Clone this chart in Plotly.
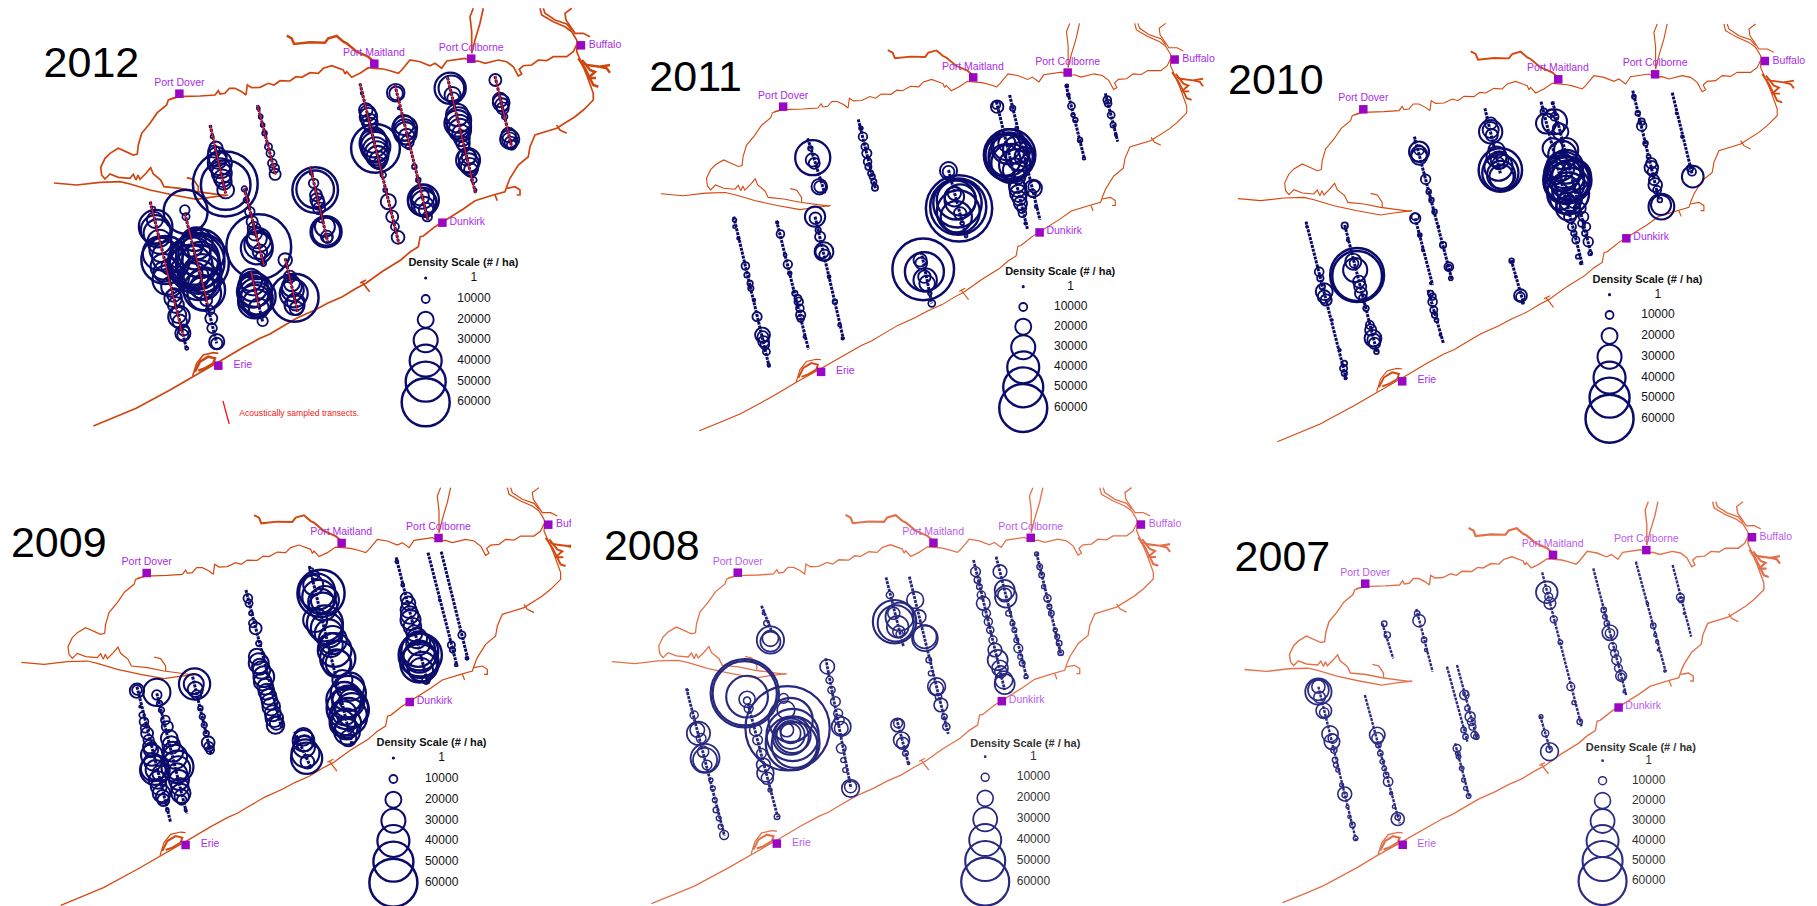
import plotly.graph_objects as go

W, H = 1817, 906
YEARS = ["2012", "2011", "2010", "2009", "2008", "2007"]
# page box of each map: left, top, width, height, map units per pixel (x); y is 3 units per pixel
BOX = [(0, 0, 640, 440, 2.57), (610, 0, 610, 440, 2.57), (1210, 0, 607, 450, 2.583),
       (0, 460, 571, 446, 2.57), (600, 460, 610, 446, 2.57), (1210, 460, 607, 446, 2.583)]
DOVER = [(461, 281), (445, 320), (396, 328), (377, 339), (354, 338), (401, 371)]
SCALE = [(1, 1), (.975, .975), (1.005, 1), (1, 1), (1.004, .996), (.968, .96)]
YEAR_POS = [(235, 200), (220, 241), (170, 250), (151, 258), (133, 267), (187, 302)]
LEG_X = [1094, 1062, 1032, 1011, 990, 1014]
LEG_LABEL_X = [1218, 1184, 1157, 1135, 1114, 1133]
LEG_TITLE = [(1191, 789), (1157, 816), (1130, 840), (1109, 849), (1093, 852), (1113, 865)]
LEG_Y = [[834, 897, 959, 1021, 1082, 1145, 1207], [860, 921, 980, 1042, 1102, 1162, 1224],
         [884, 945, 1008, 1070, 1133, 1193, 1256], [894, 957, 1019, 1082, 1143, 1205, 1268],
         [890, 952, 1015, 1078, 1140, 1203, 1265], [902, 962, 1022, 1083, 1143, 1203, 1263]]
LEG_DENSITY = [1, 10000, 20000, 30000, 40000, 50000, 60000]

TOWNS = ["Port Dover", "Port Maitland", "Port Colborne", "Buffalo", "Dunkirk", "Erie"]
TOWN_X = [461, 962, 1211, 1493, 1137, 561]
TOWN_Y = [281, 191, 176, 136, 668, 1097]
TOWN_LX = [461, 961, 1211, 1513, 1155, 600]
TOWN_LY = [249, 159, 144, 136, 666, 1095]

# Shoreline in pixels of the 2012 map
SHORE_MAIN = [(170,99),(178.3,96.7),(200,96),(215,95),(218.3,90.7),(220,94),(225,93.3),(229.3,88.3),(235,88.3),(241.7,91.7),(246,95),(247.3,85),(251.7,87.7),(260,87.3),(268.3,83.3),(274,85),(280,80.7),(290,81),(296,76.7),(301.7,77.3),(310,72.7),(318.3,73.3),(323.3,68.3),(331.7,65.7),(343.3,70),(345,74),(346.7,71.7),(351.7,77.3),(360,73.3),(368.3,67.7),(375,68.3),(383.3,69),(390,70.7),(398.3,73.3),(401.7,70),(410,60),(420,61.7),(430,65.7),(435,63.3),(441.7,68.3),(446.7,61),(455,60),(465,58.3),(471.7,61.7),(478.3,61),(485,63.3),(498.3,60),(506.7,61.7),(513.3,66.7),(518.3,76),(521.7,74),(519.3,69.3),(523.3,65.7),(531.7,65),(538.3,60),(546.7,60.7),(553.3,56.7),(566.7,56.7),(573.3,51.7),(577.3,43.3),(576.7,51.7),(581.7,63.3),(586.7,75),(593.3,93.3),(593.3,100),(583.3,110),(575,116.7),(556.7,128.3),(535,135),(530,146.7),(528.3,156.7),(518.3,165),(510,178.3),(507.3,185),(505,191.7),(493.3,195),(475,200.7),(463.3,209),(448.3,218.3),(435,226.7),(423.3,236),(420.2,236.7),(418.3,246.7),(410,252),(400.8,260),(383,271),(365.8,283.3),(355,289),(342.4,296.7),(328,303),(315,310),(297,318),(280,328),(270,334),(260,338.3),(241.7,348.3),(225,358.3),(213.3,365),(193.3,376),(170,390),(136.2,408.3),(118,416),(93.4,426)]
SHORE_WEST = [(178.3,96.7),(168.3,100),(166.7,105),(157.3,112.7),(150,123.3),(141.7,133.3),(138.3,145),(137.3,154),(133.3,155),(125,151.7),(118.3,148.3),(110,153.3),(105,158.3),(100.7,167.3),(101.7,175),(105,179),(110,174),(118.3,177.3),(130,178.3),(133.3,174.3),(136,180),(138,175),(140,179.3),(146,173.3),(150.7,167.7),(153.3,174),(160.7,180),(164,186.7),(180,188.3),(196.7,191.7),(210,193.3),(226.7,195.7)]
SHORE_SPIT = [(54,183),(76.7,185),(100,182.3),(120,181.7),(130,184),(150,190),(173.3,195),(196.7,199.3),(210,197.3),(228.3,195)]
SHORE_HOOK = [(186.7,177.7),(193.3,179.3),(198.3,186.7),(198.3,191.7)]
RIVER_A = [(540,8.3),(541.7,15),(553.3,21.7),(565,26.7),(571.7,31.7),(576.7,40),(577.3,43.3)]
RIVER_A2 = [(543.3,8.3),(545,13.3),(555,20),(566.7,24),(571.7,30)]
RIVER_B = [(571.7,8.3),(565,13.3),(566,20),(571.7,28.3),(575,33.3),(583.3,33.3),(590,36.7)]
CANAL_L = [(473.3,8.3),(470,16.7),(471.7,31.7),(471.7,53.3)]
CANAL_R = [(483.3,8.3),(480,23.3),(475,40),(471.7,53.3)]
TICK_1 = [(556.7,125),(560,130),(566.7,133.3)]
TICK_2 = [(506.7,188.3),(515,186.7),(520,190),(520,195),(516.7,195)]
TICK_3 = [(495,195),(497.3,200.7)]
TICK_4 = [(361.9,281.7),(369.6,291.7)]
TICK_5 = [(360,283),(366,280)]
WELLAND = [(286.7,35.7),(291.7,38.3),(294,44),(310,42.3),(325,42.7),(328.3,38.3),(336.7,36),(343.3,41.7),(346.7,43.3),(356.7,51.7),(368.3,56.7),(374,61.7)]
ERIE_BAY = [(192.7,376),(196.7,363.3),(203.3,355),(213.3,352.7),(218.3,353.3)]
ERIE_INNER = [(195,371.7),(200,361.7),(208.3,356.7),(215,358.3),(213.3,363.3),(205,368.3),(198.3,370.7)]
HARBOUR_A = [(578.3,58.3),(585,68.3),(590,78.3),(593.3,85),(598.3,86.7)]
HARBOUR_B = [(583,63),(586.7,65),(600,66.7),(610,65)]
HARBOUR_C = [(600,66.7),(606.7,68.3),(610,72.7)]
HARBOUR_D = [(582,60),(590,70),(595,72),(588,78),(596,78)]
COAST = [SHORE_MAIN, SHORE_WEST, SHORE_SPIT, SHORE_HOOK, RIVER_A, RIVER_A2, RIVER_B, CANAL_L, CANAL_R, TICK_1, TICK_2, TICK_3, TICK_4, TICK_5, ERIE_BAY]
COAST_HEAVY = [WELLAND, ERIE_INNER, HARBOUR_A, HARBOUR_B, HARBOUR_C, HARBOUR_D]
COAST_WIDTH = [1.7, 1.1, 1.1, 1.2, 1.3, 1.4]
COAST_COLOR = ["#cf4510", "#d4480f", "#d4480f", "#d4480f", "#e2714a", "#e2714a"]
BUBBLE_COLOR = ["#0b0b6b", "#0b0b6b", "#0b0b6b", "#0b0b6b", "#28287f", "#2c2c85"]
TEXT_COLOR = ["#a92be8", "#a92be8", "#a92be8", "#a92be8", "#b95cec", "#b95cec"]
INK = ["#111111", "#111111", "#111111", "#111111", "#333333", "#333333"]
BEAD_WIDTH = [3, 3, 3, 3, 2.8, 2.4]

RED_2012 = [[(386,605),(470,1010)], [(475,640),(535,915)], [(540,375),(580,580)], [(662,315),(708,525)],
            [(628,565),(678,795)], [(645,815),(665,920)], [(733,775),(765,935)], [(797,500),(842,725)],
            [(925,250),(1025,730)], [(1015,255),(1100,660)], [(1150,232),(1222,580)], [(1272,228),(1315,440)]]
RED_KEY = [(573,1203),(589,1272)]
RED_NOTE = "Acoustically sampled transects."

TRANSECTS = [
 [[(386,605),(480,1050)],[(475,640),(557,1030)],[(540,375),(580,580)],[(662,315),(708,525)],[(628,565),(678,795)],[(645,815),(675,965)],[(733,775),(765,935)],[(797,500),(842,725)],[(925,250),(1025,730)],[(1015,255),(1100,660)],[(1150,232),(1222,580)],[(1272,228),(1315,440)]],
 [[(1172,255),(1220,480)],[(1273,280),(1305,425)],[(993,305),(1073,688)],[(1027,285),(1105,660)],[(638,358),(682,565)],[(508,415),(552,580)],[(318,650),(410,1105)],[(428,662),(510,1048)],[(527,650),(600,1018)],[(800,755),(827,910)],[(870,510),(915,710)]],
 [[(1092,272),(1160,600)],[(1194,278),(1245,520)],[(855,305),(962,795)],[(885,305),(985,765)],[(710,325),(750,520)],[(528,410),(625,840)],[(248,665),(352,1138)],[(348,675),(432,1060)],[(530,655),(575,855)],[(563,870),(603,1030)],[(778,780),(810,910)]],
 [[(1100,278),(1175,620)],[(1134,275),(1203,600)],[(1018,292),(1100,672)],[(632,390),(725,810)],[(795,318),(905,855)],[(757,815),(800,925)],[(352,680),(438,1085)],[(403,700),(480,1062)],[(495,650),(542,880)]],
 [[(1122,280),(1185,585)],[(1018,290),(1097,655)],[(960,300),(1040,690)],[(795,350),(895,822)],[(735,352),(780,560)],[(415,437),(440,510)],[(580,595),(645,985)],[(380,730),(457,1072)],[(222,685),(320,1128)],[(762,775),(793,912)]],
 [[(1195,315),(1243,530)],[(1100,305),(1177,635)],[(990,325),(1075,705)],[(858,337),(960,800)],[(533,447),(575,635)],[(445,490),(473,595)],[(612,620),(665,845)],[(638,615),(690,838)],[(633,850),(670,1012)],[(853,768),(880,875)],[(400,705),(490,1090)],[(280,680),(377,1140)]],
]

# x, y, density in thousands per hectare
B2012 = [(400,680,42),(400,690,37),(405,700,35),(410,725,30),(425,780,60),(430,840,37),(420,815,25),(435,800,20),(445,895,22),(447,885,17),(460,950,27),(458,945,20),(470,1000,19),(470,1005,14),(480,1045,4),(398,660,20),(395,625,4),
 (475,630,12),(477,635,55),(478,650,9),(510,790,76),(505,785,70),(500,780,62),(510,800,55),(500,760,40),(495,740,25),(515,780,45),(490,825,30),(500,830,35),(525,870,52),(525,880,42),(520,860,30),(530,900,15),(540,930,11),(543,955,15),(545,985,12),(557,1025,19),(557,1030,14),
 (541,380,2.5),(545,410,4),(555,445,17),(565,490,30),(570,520,25),(575,545,20),(580,570,21),(560,480,22),(579,552,81),(580,555,62),
 (664,325,4),(670,350,5),(675,375,5),(680,400,6),(690,440,9),(695,460,10),(700,490,11),(705,505,12),(707,523,14),
 (628,567,7),(633,600,7),(642,635,12),(648,665,14),(653,685,16),(660,715,25),(660,745,40),(665,720,30),(664,735,35),(670,770,12),(677,790,7),(665,740,81),
 (650,860,37),(655,870,42),(660,890,47),(655,905,42),(650,850,30),(660,895,40),(675,963,13),
 (733,780,17),(745,830,15),(750,860,25),(755,880,35),(757,893,60),(762,925,17),(760,905,22),
 (800,520,4),(806,550,12),(810,570,57),(810,568,47),(815,600,17),(820,625,15),(838,695,39),(838,695,35),(840,710,15),(825,660,6),
 (930,280,3),(940,330,17),(947,350,22),(950,365,20),(965,445,61),(965,440,37),(965,450,32),(970,470,27),(975,490,15),(985,525,7),(990,570,5),(998,605,19),(1008,650,15),(1015,680,10),(1023,712,16),
 (1017,278,22),(1018,280,17),(1025,325,3),(1040,385,31),(1040,390,27),(1045,410,20),(1050,440,7),(1065,500,6),(1075,540,6),(1088,600,39),(1085,605,35),(1090,620,25),(1098,650,12),(1080,590,22),
 (1157,265,39),(1160,265,32),(1163,285,20),(1165,295,15),(1178,360,32),(1180,380,30),(1185,400,22),(1190,430,17),(1203,480,30),(1205,490,25),(1210,510,17),(1218,540,7),(1222,570,3),
 (1273,240,15),(1288,308,21),(1290,315,17),(1297,350,7),(1310,418,24),(1310,420,19),(1315,435,12),
 (415,750,30),(420,800,32),(430,770,38),(410,760,42),(440,860,25),(452,915,20),(462,965,18),(472,990,14),
 (505,730,40),(515,760,60),(490,800,55),(520,820,48),(510,840,50),(500,720,28),(525,850,40),
 (558,470,24),(567,505,25),(572,535,22),(550,455,15),(655,700,18),(668,755,18),
 (645,840,28),(650,875,40),(660,910,35),(665,925,25),(750,850,20),(752,870,28),(757,915,25),
 (812,585,15),(818,610,16),(835,680,25),(842,715,12),(945,340,20),(952,375,18),(960,420,32),(960,430,35),(968,460,30),(972,480,22),
 (1038,375,25),(1042,400,28),(1047,425,16),(1085,590,30),(1090,610,32),(1095,630,18),
 (1175,345,28),(1176,370,33),(1182,390,28),(1187,415,20),(1192,440,14),(1200,470,22),(1207,500,22),(1205,470,18),
 (1285,300,18),(1292,325,15),(1307,405,18),(1312,428,15)]
B2011 = [(1174,258,4),(1178,285,4),(1186,318,9),(1190,345,5),(1196,360,6),(1208,420,6),(1218,475,3.5),
 (1278,300,10),(1280,310,9),(1288,345,9),(1293,375,7),(1300,405,3),
 (995,320,16),(993,315,10),(1027,465,66),(1025,470,62),(1020,465,55),(1030,470,57),(1020,430,22),(1040,510,30),(1055,470,37),(1065,470,25),(1040,495,40),(1020,440,35),(1045,555,20),(1050,580,22),(1055,610,17),(1060,640,10),(1088,565,22),(1085,580,10),(1090,560,15),(1035,325,7),(1045,385,4),(1095,620,3.5),(1068,670,3.5),
 (645,385,5),(650,410,11),(660,460,12),(662,485,10),(670,520,7),(678,545,7),(681,563,8),
 (521,473,45),(520,480,17),(525,490,14),(515,445,6),(538,560,20),(540,560,15),
 (320,660,5),(330,715,3.5),(348,798,10),(352,825,7),(362,865,7),(370,900,3.5),(378,950,12),(392,1005,19),(393,1010,14),(398,1035,11),(402,1055,9),(408,1095,3.5),
 (430,668,3),(438,702,10),(450,765,4),(457,793,11),(462,820,5),(475,880,7),(485,905,11),(490,945,12),(490,955,9),(500,1010,3),
 (527,650,26),(528,655,15),(535,690,7),(540,710,13),(550,755,24),(545,755,17),(552,765,14),(563,830,4),(578,905,6),(590,975,4),(598,1015,3.5),
 (870,512,22),(870,515,15),(897,625,85),(895,620,72),(893,610,62),(890,600,50),(885,590,25),(885,580,17),(900,640,16),(895,635,55),(905,670,5),(915,708,4),
 (805,808,79),(808,815,50),(797,780,17),(800,790,15),(808,830,16),(815,850,20),(810,840,30),(822,880,5),(827,910,9),
 (1025,440,45),(1030,490,50),(1045,450,35),(1015,480,40),(1050,530,18),(1048,565,22),(1052,595,18),(1058,625,12),(655,440,9),(664,500,8),(674,530,7),(320,680,4),(360,850,7),(395,1025,14),(483,895,9),(488,925,10),(900,600,40),(890,650,40)]
B2010 = [(1095,290,5),(1105,340,6),(1115,378,12),(1125,430,6),(1133,470,5),(1140,503,17),(1143,515,12),(1150,555,17),(1155,570,10),(1162,600,6),(1166,620,32),(1165,615,25),
 (1205,340,2.5),(1220,410,3.5),(1240,505,8),(1247,530,27),(1245,515,10),
 (725,395,29),(725,390,20),(728,405,15),(740,470,25),(745,490,15),(750,510,54),(750,518,45),(753,530,30),(752,525,35),(745,500,35),
 (862,335,8),(868,370,25),(890,365,31),(900,385,14),(905,395,20),(885,445,25),(910,465,35),(925,540,58),(920,540,57),(930,540,50),(915,510,45),(925,530,40),(920,570,35),(925,580,52),(920,500,42),(925,625,30),(930,650,15),(940,700,7),(945,720,9),(950,770,5),(958,790,3),(925,620,21),(955,625,15),(960,670,9),(968,700,7),(977,725,12),(982,760,5),(885,310,3),(890,350,10),(880,340,10),(893,520,27),(945,525,37),(920,450,30),(905,600,25),(940,600,20),
 (530,425,2.5),(540,455,25),(540,462,20),(540,450,12),(557,538,12),(565,575,6),(572,600,6),(580,635,6),(590,680,2.5),(602,735,8),(617,800,11),(617,802,7),(622,835,5),
 (250,680,2),(282,815,11),(285,835,8),(290,860,7),(295,875,21),(300,900,14),(315,960,2.5),(335,1050,3),(345,1105,9),(347,1120,7),(350,1135,3),
 (348,677,8),(356,720,3),(370,785,20),(372,790,11),(375,810,30),(380,825,67),(380,828,62),(388,860,15),(390,880,15),(395,895,10),(403,925,7),(413,975,10),(421,1015,21),(423,1020,16),(430,1055,6),
 (530,655,13),(530,650,9),(542,705,5),(550,750,3),(570,850,2.5),
 (570,880,7),(575,905,11),(578,930,9),(585,960,5),(595,1005,2.5),
 (779,782,6),(790,830,2.5),(802,887,16),(802,890,11),(808,908,3),
 (1140,490,13),(1147,540,13),(1115,365,8),(740,450,20),(748,480,22),(725,370,15),(910,520,45),(935,555,42),(915,550,50),(905,500,35),(930,600,28),(920,610,25),(965,650,12),(972,680,10),(935,680,10),(415,990,14),(425,1030,14),(385,845,15),(575,890,8),(580,945,7),(540,470,20),(347,1090,7),(295,890,16)]
B2009 = [(1160,555,9),(1163,570,7),(1172,615,3.5),(1130,420,2.5),
 (1187,525,9),(1200,595,4),
 (1020,305,4),(1035,375,4),(1045,415,15),(1050,450,20),(1055,480,25),(1065,520,20),(1080,585,54),(1078,575,47),(1075,570,42),(1080,600,45),(1075,550,30),(1085,620,37),(1095,660,10),
 (637,415,11),(645,460,5),(657,505,15),(665,550,7),(665,610,25),(672,630,22),(678,650,26),(682,680,20),(690,710,20),(697,740,22),(705,775,22),(708,795,22),(710,790,16),
 (825,400,59),(815,395,45),(820,410,42),(825,425,32),(835,420,35),(805,375,25),(835,490,45),(840,505,40),(855,540,35),(860,570,42),(868,595,44),(870,610,32),(895,700,44),(895,725,40),(893,745,52),(895,770,47),(890,790,37),(892,815,32),(885,760,30),(900,720,27),(895,835,20),(800,330,5),(810,345,10),
 (780,842,27),(782,860,27),(785,880,35),(788,895,39),(790,905,17),(780,830,22),
 (352,692,18),(352,690,12),(360,740,2.5),(370,785,11),(378,820,15),(385,860,17),(390,885,27),(395,925,32),(398,930,37),(405,960,22),(415,1000,22),(420,1020,15),(430,1050,4),(400,930,25),
 (403,697,34),(403,705,12),(415,750,7),(430,800,14),(435,835,21),(450,890,30),(456,920,40),(458,925,30),(460,960,25),(465,1000,24),(467,1020,12),(477,1050,3),
 (500,672,39),(498,672,25),(502,688,19),(505,705,12),(520,770,7),(530,820,7),(535,848,16),(540,870,10),
 (1050,430,17),(1053,465,22),(1060,500,22),(1078,590,40),(1078,610,48),(1072,535,25),(1082,630,30),
 (660,590,20),(668,620,20),(675,665,22),(685,695,20),(693,725,20),(701,760,20),(650,490,10),(640,430,9),
 (830,440,35),(810,480,30),(845,520,35),(850,555,30),(865,610,35),(880,660,25),(900,680,35),(885,720,45),(905,750,42),(880,790,32),(890,805,28),
 (373,805,11),(382,840,13),(388,870,18),(393,905,22),(408,980,20),(418,1010,17),(412,940,20),(365,765,7),
 (425,780,11),(440,855,22),(445,875,25),(455,940,25),(462,980,22),(467,1010,18),(410,730,7),(515,745,6),(525,795,7),(537,860,12),(783,850,20)]
B2008 = [(1122,282,5),(1130,320,7),(1135,345,7),(1150,415,9),(1160,460,7),(1170,510,5),(1180,550,7),(1184,578,7),
 (1028,335,17),(1040,390,25),(1043,410,27),(1040,405,17),(1050,460,7),(1065,510,6),(1075,565,11),(1085,610,7),(1095,650,5),
 (965,335,12),(975,380,7),(985,430,17),(993,460,10),(1003,510,9),(1015,570,17),(1022,600,25),(1028,625,20),(1038,660,22),(1040,672,25),(1030,635,15),
 (810,420,21),(820,470,17),(835,530,29),(835,535,32),(845,600,7),(865,680,22),(865,685,17),(876,735,17),(890,800,9),
 (745,405,9),(755,460,15),(757,485,54),(760,490,45),(765,500,27),(768,515,15),(770,522,9),(770,470,35),
 (428,490,7),(438,540,34),(438,545,25),(438,535,20),(420,460,3),
 (584,620,18),(590,660,9),(605,725,12),(612,760,11),(620,800,24),(620,805,17),(620,865,12),(630,930,6),(644,985,22),(644,980,15),
 (372,700,85),(372,700,80),(378,710,52),(378,718,20),(378,722,9),(382,745,11),(400,810,15),(472,715,12),(478,750,22),(482,805,105),(495,825,65),(495,850,67),(500,855,57),(490,830,45),(490,825,35),(490,820,25),(490,780,55),(480,810,17),(495,825,45),(420,915,17),(425,940,21),(430,955,15),(437,990,5),(455,1070,7),
 (225,690,2),(242,765,10),(253,820,29),(260,835,12),(265,875,14),(270,895,36),(270,900,30),(275,915,12),(290,985,6),(298,1050,7),(310,1100,6),(319,1125,11),
 (765,795,17),(766,790,11),(775,840,20),(778,850,15),(785,880,7),(793,910,3),
 (1140,380,5),(1155,440,6),(1175,530,6),(1060,490,6),(1070,540,6),(1080,590,6),(970,360,8),(980,405,10),(998,485,10),(1010,540,10),(850,640,6),(870,710,8),(885,770,7),(595,690,9),(615,780,12),(625,900,6),(405,840,12),(415,880,12),(285,960,5),(295,1020,6),(305,1075,6),(250,810,18)]
B2007 = [(1215,412,10),(1217,420,7),(1225,460,2.5),
 (1145,497,7),(1150,525,4),(1158,570,2.5),(1175,633,3),
 (1017,450,7),(1025,490,7),(1033,518,20),(1033,520,12),(1050,600,12),(1055,625,10),(1062,648,14),(1063,650,9),(1070,695,3),
 (870,397,28),(870,390,10),(875,410,10),(878,430,15),(888,478,9),(905,547,6),(932,680,10),(940,728,5),(955,785,7),
 (540,482,16),(535,460,7),(553,540,7),(558,570,4),
 (450,491,7),(458,525,8),
 (655,810,7),(660,830,7),
 (657,705,12),(672,770,13),(675,785,10),(683,825,9),(660,700,7),
 (638,865,10),(642,890,6),(650,925,6),(668,1008,6),
 (855,770,5),(866,820,9),(877,875,23),(876,868,8),
 (432,825,20),(433,835,15),(435,855,7),(450,925,6),(460,965,12),(468,1000,4),(485,1077,17),(485,1072,7),
 (280,695,34),(280,690,27),(283,712,15),(280,680,17),(294,752,20),(295,758,12),(310,822,21),(315,845,20),(317,835,12),(323,900,7),(330,930,5),(348,1002,18),(348,1005,7),(360,1070,4),(368,1095,7),(376,1135,6),
 (1040,560,10),(1045,580,10),(1020,470,6),(1130,430,3),(1155,545,4),(320,870,8),(325,915,6),(340,975,5),(355,1040,4),(440,880,7),(445,905,6),(455,945,7),(475,1040,4),(640,880,6),(655,960,5),(660,985,5),(665,745,7),(678,800,9),(688,830,7)]
BUBBLES = [B2012, B2011, B2010, B2009, B2008, B2007]

def size_of(density_k, s):
    return max(1.5, 0.8 * density_k * s)

fig = go.Figure()
layout = dict(width=W, height=H, margin=dict(l=0, r=0, t=0, b=0), showlegend=False,
              paper_bgcolor="white", plot_bgcolor="rgba(0,0,0,0)",
              font=dict(family="Liberation Sans, Arial, sans-serif"))
for i, year in enumerate(YEARS):
    ox, oy, bw, bh, sx = BOX[i]
    suf = "" if i == 0 else str(i + 1)
    layout["xaxis" + suf] = dict(domain=[ox / W, min(1, (ox + bw) / W)], range=[0, bw * sx], visible=False, fixedrange=True)
    layout["yaxis" + suf] = dict(domain=[max(0, 1 - (oy + bh) / H), 1 - oy / H], range=[bh * 3, 0], visible=False, fixedrange=True)
    xa, ya = "x" + suf, "y" + suf
    clip = (year == "2009")
    dx, dy = DOVER[i]
    kx, ky = SCALE[i]
    X = lambda v: dx + (v - 461) * kx
    Y = lambda v: dy + (v - 281) * ky

    def line(pts, color, width):
        fig.add_trace(go.Scatter(x=[X(p[0] * 2.57) for p in pts], y=[Y(p[1] * 3) for p in pts], mode="lines", xaxis=xa, yaxis=ya,
                                 line=dict(color=color, width=width), cliponaxis=clip, hoverinfo="skip"))
    for seg in COAST:
        line(seg, COAST_COLOR[i], COAST_WIDTH[i])
    for seg in COAST_HEAVY:
        line(seg, COAST_COLOR[i], COAST_WIDTH[i] + 0.8)

    # transects
    for seg in TRANSECTS[i]:
        fig.add_trace(go.Scatter(x=[p[0] for p in seg], y=[p[1] for p in seg], mode="lines", xaxis=xa, yaxis=ya,
                                 line=dict(color=BUBBLE_COLOR[i], width=BEAD_WIDTH[i], dash="3px,1px"), cliponaxis=clip, hoverinfo="skip"))
    # density circles
    rows = BUBBLES[i]
    sizes = [size_of(r[2], kx) for r in rows]
    base = 1.3 if i >= 4 else 1.6
    fig.add_trace(go.Scatter(x=[r[0] for r in rows], y=[r[1] for r in rows], mode="markers", xaxis=xa, yaxis=ya, cliponaxis=clip,
                             customdata=[r[2] * 1000 for r in rows],
                             marker=dict(size=sizes, color="rgba(0,0,0,0)", sizemode="diameter", opacity=1,
                                         line=dict(color=BUBBLE_COLOR[i], width=[base + min(0.9, s / 50) for s in sizes]))))
    if year == "2012":
        for seg in RED_2012:
            fig.add_trace(go.Scatter(x=[p[0] for p in seg], y=[p[1] for p in seg], mode="lines", xaxis=xa, yaxis=ya,
                                     line=dict(color="#f01818", width=1.3), cliponaxis=False, hoverinfo="skip"))
        fig.add_trace(go.Scatter(x=[p[0] for p in RED_KEY], y=[p[1] for p in RED_KEY], mode="lines", xaxis=xa, yaxis=ya,
                                 line=dict(color="#f01818", width=1.3), cliponaxis=False, hoverinfo="skip"))
        fig.add_trace(go.Scatter(x=[769], y=[1242], mode="text", text=[RED_NOTE], xaxis=xa, yaxis=ya, cliponaxis=False,
                                 textposition="middle center", textfont=dict(color="#f01818", size=8.6)))

    # towns
    fig.add_trace(go.Scatter(x=[X(v) for v in TOWN_X], y=[Y(v) for v in TOWN_Y], mode="markers", xaxis=xa, yaxis=ya, cliponaxis=clip,
                             marker=dict(symbol="square", size=8.5, color="#9a06c4", opacity=1, line=dict(width=0))))
    for name, lx, ly in zip(TOWNS, TOWN_LX, TOWN_LY):
        pos = "middle right" if name in ("Buffalo", "Dunkirk", "Erie") else "middle center"
        fig.add_trace(go.Scatter(x=[X(lx)], y=[Y(ly)], mode="text", text=[name], textposition=pos, xaxis=xa, yaxis=ya, cliponaxis=clip,
                                 textfont=dict(color=TEXT_COLOR[i], size=10.5)))
    # year
    fig.add_trace(go.Scatter(x=[YEAR_POS[i][0]], y=[YEAR_POS[i][1]], mode="text", text=[year], textposition="middle center",
                             xaxis=xa, yaxis=ya, cliponaxis=False, textfont=dict(color="#000000", size=43)))
    # legend
    ys = LEG_Y[i]
    fig.add_trace(go.Scatter(x=[LEG_TITLE[i][0]], y=[LEG_TITLE[i][1]], mode="text", text=["<b>Density Scale (# / ha)</b>"],
                             textposition="middle center", xaxis=xa, yaxis=ya, cliponaxis=False,
                             textfont=dict(color=INK[i], size=11)))
    ssz = [size_of(d / 1000, 1) for d in LEG_DENSITY]
    fig.add_trace(go.Scatter(x=[LEG_X[i]] * 7, y=ys, mode="markers", xaxis=xa, yaxis=ya, cliponaxis=clip,
                             marker=dict(size=ssz, color="rgba(0,0,0,0)", opacity=1,
                                         line=dict(color=BUBBLE_COLOR[i], width=[base + min(0.9, s / 50) for s in ssz]))))
    fig.add_trace(go.Scatter(x=[LEG_LABEL_X[i]] * 7, y=ys, mode="text", text=[str(d) for d in LEG_DENSITY], textposition="middle center",
                             xaxis=xa, yaxis=ya, cliponaxis=False, textfont=dict(color=INK[i], size=12)))

fig.update_layout(**layout)
fig.write_html("out.html", config={"displayModeBar": False}, post_script="document.body.style.margin='0';")
